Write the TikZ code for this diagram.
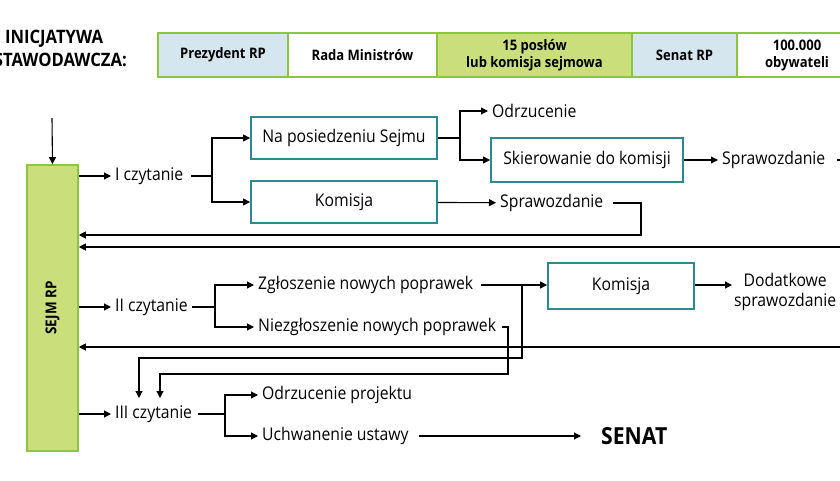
\documentclass[tikz,border=0pt]{standalone}
\usepackage{fontspec}
\setmainfont{Open Sans}[FakeStretch=0.9]
\usetikzlibrary{arrows.meta,positioning}
\definecolor{teal}{RGB}{42,138,143}
\definecolor{lime}{RGB}{202,223,124}
\definecolor{limeline}{RGB}{140,198,63}
\definecolor{pale}{RGB}{214,230,238}
\tikzset{
  txt/.style={font=\fontsize{17.5}{20}\selectfont, inner ysep=0pt, inner xsep=4pt},
  box/.style={draw=teal, line width=1.8pt, minimum height=42pt, txt},
  cell/.style={draw=limeline, line width=1.6pt, minimum height=44pt, align=center,
    font=\bfseries\fontsize{14.5}{17}\selectfont, inner sep=0pt},
  arr/.style={-{Triangle[length=7pt,width=7pt]}, line width=1.1pt},
  ln/.style={line width=1.1pt},
}
\begin{document}
\begin{tikzpicture}[x=1pt,y=-1pt]
\useasboundingbox (0,0) rectangle (840,480);
\clip (0,0) rectangle (840,480);
% inicjatywa
\node[align=center, font=\bfseries\fontsize{18.5}{23}\selectfont] (ini) at (54,48) {INICJATYWA\\USTAWODAWCZA:};
\node[cell, fill=pale, minimum width=130pt] (c1) at (223,55) {Prezydent RP};
\node[cell, fill=white, minimum width=149pt] (c2) at (362.5,55) {Rada Ministrów};
\node[cell, fill=lime, minimum width=195pt] (c3) at (534.5,55) {15 posłów\\lub komisja sejmowa};
\node[cell, fill=pale, minimum width=105pt] (c4) at (684.5,55) {Senat RP};
\node[cell, fill=white, minimum width=120pt] (c5) at (797,55) {100.000\\obywateli};
\node[fill=lime, draw=limeline, line width=1.6pt, minimum width=51pt, minimum height=286pt] (sejm) at (52.5,308) {};
\node[rotate=90, font=\bfseries\fontsize{15}{17}\selectfont] at (sejm) {SEJM RP};
\draw[arr] (52,118) -- (sejm.north);
% I czytanie
\node[txt, anchor=west] (cz1) at (111,176) {I czytanie};
\node[box, minimum width=186pt] (pos) at (344,138) {Na posiedzeniu Sejmu};
\node[box, minimum width=186pt] (kom1) at (344,202) {Komisja};
\node[txt, anchor=west] (odrz) at (488,111) {Odrzucenie};
\node[box, minimum width=192pt, minimum height=44pt] (skier) at (587,160) {Skierowanie do komisji};
\node[txt, anchor=west] (spr1) at (718,160) {Sprawozdanie};
\node[txt, anchor=west] (spr2) at (496,203) {Sprawozdanie};
\draw[arr] (sejm.east |- cz1) -- (cz1);
\draw[ln] (cz1.east) ++(4,0) -- (212,176);
\draw[arr] (212,176) |- (pos);
\draw[arr] (212,176) |- (kom1);
\draw[ln] (pos) -- (460,138);
\draw[arr] (460,138) |- (odrz);
\draw[arr] (460,138) |- (skier);
\draw[arr] (skier) -- (spr1);
\draw[ln] (spr1.east) ++(8,0) -- (845,160);
\draw[arr] (kom1) -- (spr2);
\draw[arr] (spr2.east) ++(6,0) -| (641,235) -- (sejm.east |- 0,235);
\draw[arr] (845,247) -- (sejm.east |- 0,247);
% II czytanie
\node[txt, anchor=west] (cz2) at (111,307) {II czytanie};
\node[txt, anchor=west] (zgl) at (254,285) {Zgłoszenie nowych poprawek};
\node[txt, anchor=west] (niezgl) at (254,327) {Niezgłoszenie nowych poprawek};
\node[box, minimum width=146pt, minimum height=46pt] (kom2) at (621,286) {Komisja};
\node[txt, align=center, anchor=west] (dod) at (730,292) {Dodatkowe\\sprawozdanie};
\draw[arr] (sejm.east |- cz2) -- (cz2);
\draw[ln] (cz2.east) -- (215,307);
\draw[arr] (215,307) |- (zgl);
\draw[arr] (215,307) |- (niezgl);
\draw[arr] (zgl.east) ++(4,0) -- (kom2.west |- zgl);
\draw[arr] (kom2.east |- zgl) -- (732,285);
\draw[arr] (845,347) -- (sejm.east |- 0,347);
% III czytanie
\node[txt, anchor=west] (cz3) at (111,414) {III czytanie};
\node[txt, anchor=west] (odrzp) at (258,395) {Odrzucenie projektu};
\node[txt, anchor=west] (uchw) at (258,436) {Uchwanenie ustawy};
\node[font=\bfseries\fontsize{23.5}{25}\selectfont, anchor=west, inner sep=0pt] (senat) at (601,436) {SENAT};
\draw[arr] (522,285) |- (139,358) -- (139,398);
\draw[arr] (niezgl.east) ++(2,0) -- (508,327) |- (160,374) -- (160,398);
\draw[arr] (sejm.east |- cz3) -- (cz3);
\draw[ln] (cz3.east) ++(2,0) -- (225,414);
\draw[arr] (225,414) |- (odrzp);
\draw[arr] (225,414) |- (uchw);
\draw[arr] (uchw.east) ++(6,0) -- (581,436);
\end{tikzpicture}
\end{document}
